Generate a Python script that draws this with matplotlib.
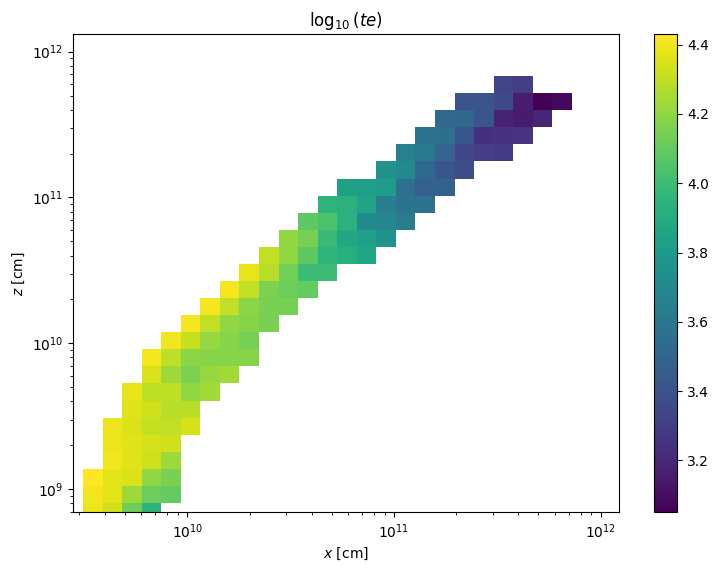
import numpy as np
import matplotlib
matplotlib.use("Agg")
import matplotlib.pyplot as plt

# log10(te) per row, bottom to top, with the column where each row starts
first_col = [0, 0, 0, 1, 1, 1, 2, 2, 3, 3, 4, 5, 6, 7, 8, 9, 10, 11, 12, 13, 15, 16, 17, 18, 19, 21]
row00 = [4.39, 4.33, 4.12, 3.94]
row01 = [4.40, 4.37, 4.23, 4.12, 4.10]
row02 = [4.43, 4.37, 4.35, 4.20, 4.15]
row03 = [4.40, 4.36, 4.33, 4.23]
row04 = [4.39, 4.36, 4.34, 4.33]
row05 = [4.39, 4.35, 4.31, 4.30, 4.34]
row06 = [4.36, 4.33, 4.28, 4.28]
row07 = [4.38, 4.29, 4.29, 4.20, 4.24]
row08 = [4.35, 4.23, 4.16, 4.21, 4.24]
row09 = [4.41, 4.29, 4.19, 4.18, 4.18, 4.18]
row10 = [4.40, 4.31, 4.21, 4.18, 4.14]
row11 = [4.41, 4.30, 4.20, 4.18, 4.15]
row12 = [4.41, 4.30, 4.19, 4.15, 4.14]
row13 = [4.41, 4.30, 4.16, 4.12, 4.10]
row14 = [4.38, 4.28, 4.13, 3.99, 3.99]
row15 = [4.30, 4.20, 4.09, 3.95, 3.92, 3.87]
row16 = [4.20, 4.14, 3.98, 3.87, 3.84, 3.75]
row17 = [4.09, 4.04, 3.93, 3.71, 3.69, 3.62]
row18 = [3.95, 3.93, 3.85, 3.63, 3.58, 3.56]
row19 = [3.84, 3.82, 3.80, 3.56, 3.46, 3.48]
row20 = [3.74, 3.70, 3.51, 3.41, 3.37]
row21 = [3.65, 3.61, 3.49, 3.34, 3.30, 3.28]
row22 = [3.57, 3.55, 3.41, 3.24, 3.25, 3.26]
row23 = [3.51, 3.50, 3.41, 3.18, 3.15, 3.20]
row24 = [3.41, 3.41, 3.36, 3.16, 3.05, 3.08]
row25 = [3.33, 3.30]
rows = [row00, row01, row02, row03, row04, row05, row06, row07, row08, row09, row10, row11, row12,
        row13, row14, row15, row16, row17, row18, row19, row20, row21, row22, row23, row24, row25]

n_cols = 25
te = np.full((len(rows), n_cols), np.nan)
for i, row in enumerate(rows):
    te[i, first_col[i]:first_col[i] + len(row)] = row

# bin edges, equally spaced in log space
x_edges = 10 ** (9.4954 + 0.0946 * np.arange(n_cols + 1))
y_edges = 10 ** (8.7876 + 0.1171 * np.arange(len(rows) + 1))

W, H = 719, 572
fig = plt.figure(figsize=(W / 100, H / 100), dpi=100)
ax = fig.add_axes([73.3 / W, 1 - 512.3 / H, 546 / W, 478 / H])
cax = fig.add_axes([654.2 / W, 1 - 512.3 / H, 23 / W, 478 / H])

mesh = ax.pcolormesh(x_edges, y_edges, np.ma.masked_invalid(te), cmap="viridis", vmin=3.05, vmax=4.43)
ax.set_xscale("log")
ax.set_yscale("log")
ax.set_xlim(10 ** 9.4485, 10 ** 12.09)
ax.set_ylim(10 ** 8.841, 10 ** 12.119)
ax.set_xlabel(r"$x$ [cm]")
ax.set_ylabel(r"$z$ [cm]")
ax.set_title(r"$\log_{10}\left(te\right)$")
fig.colorbar(mesh, cax=cax)

fig.savefig("out.png", dpi=100)
plt.close()
